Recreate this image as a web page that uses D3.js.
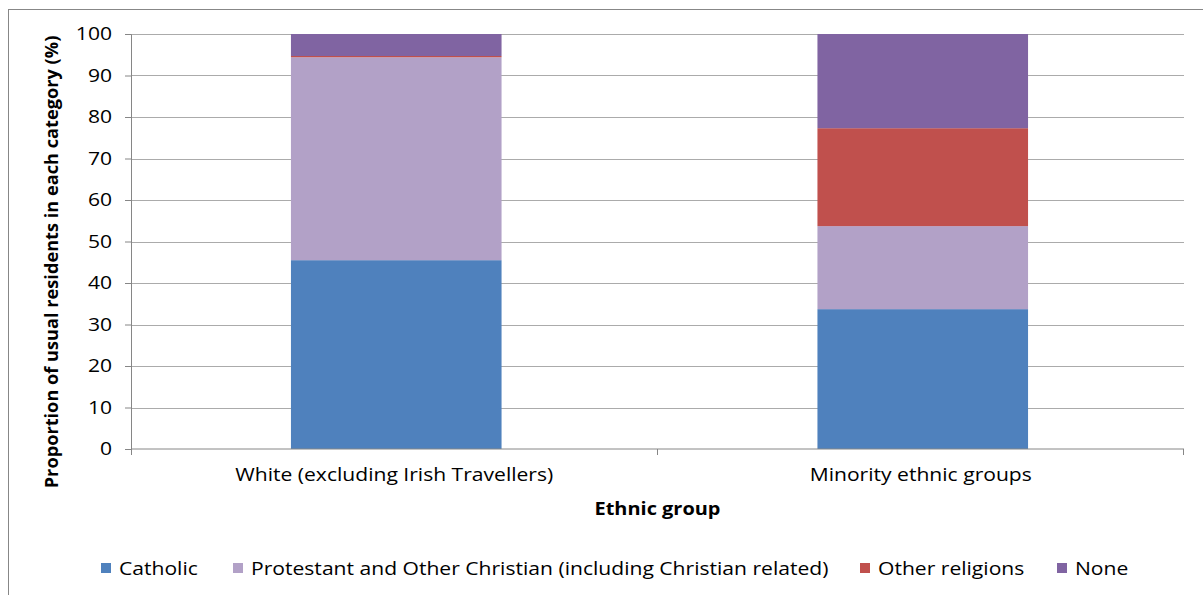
<!DOCTYPE html>
<html>
<head>
<meta charset="utf-8">
<script src="https://cdn.jsdelivr.net/npm/d3@7"></script>
<style>
  body { margin: 0; background: #fff; }
  text { font-family: 'Open Sans', sans-serif; fill: #000; }
</style>
</head>
<body>
<div id="chart"></div>
<script>
const groups = ['White (excluding Irish Travellers)', 'Minority ethnic groups']
const religions = ['Catholic', 'Protestant and Other Christian (including Christian related)', 'Other religions', 'None']
const catholic = [45.5, 33.7]
const protestant = [48.9, 20.0]
const otherReligions = [0.3, 23.6]
const none = [5.3, 22.7]
const yTicks = [0, 10, 20, 30, 40, 50, 60, 70, 80, 90, 100]
const colors = ['#4F81BD', '#B2A1C7', '#C0504D', '#8064A2']

const W = 1203, H = 595
const margin = { top: 34, right: 19, bottom: 146, left: 131 }
const width = W - margin.left - margin.right
const height = H - margin.top - margin.bottom
// the source picture is a little stretched sideways
const stretch = 1.14
const fs = '18.5px'

const rows = groups.map((g, i) => ({
  group: g,
  [religions[0]]: catholic[i],
  [religions[1]]: protestant[i],
  [religions[2]]: otherReligions[i],
  [religions[3]]: none[i]
}))
const stacked = d3.stack().keys(religions)(rows)

const svg = d3.select('#chart').append('svg')
  .attr('width', W).attr('height', H)

// outer frame
svg.append('rect')
  .attr('x', 8.5).attr('y', 9.5)
  .attr('width', W).attr('height', H)
  .attr('fill', 'none').attr('stroke', '#878787')

const g = svg.append('g')
  .attr('transform', 'translate(' + margin.left + ',' + margin.top + ')')

const x = d3.scaleBand().domain(groups).range([2, width + 2]).paddingInner(0.6).paddingOuter(0.3)
const xAxisScale = d3.scaleBand().domain(groups).range([0, width])
const y = d3.scaleLinear().domain([0, 100]).range([height, 0])

// gridlines
g.append('g').selectAll('line')
  .data(yTicks.filter(d => d > 0))
  .enter().append('line')
  .attr('x1', 0).attr('x2', width)
  .attr('y1', d => Math.round(y(d)) + 0.5).attr('y2', d => Math.round(y(d)) + 0.5)
  .attr('stroke', '#ABABAB')

// bars
g.selectAll('.layer')
  .data(stacked)
  .enter().append('g')
  .attr('fill', (d, i) => colors[i])
  .selectAll('rect')
  .data(d => d)
  .enter().append('rect')
  .attr('x', d => x(d.data.group))
  .attr('width', x.bandwidth())
  .attr('y', d => y(d[1]))
  .attr('height', d => y(d[0]) - y(d[1]))

// y axis
const yAxis = g.append('g')
  .call(d3.axisLeft(y).tickValues(yTicks).tickSize(6))
yAxis.selectAll('text')
  .style('font-size', fs)
  .attr('x', -19 / stretch)
  .attr('transform', 'scale(' + stretch + ',1)')
yAxis.selectAll('line, path').attr('stroke', '#868686')

// x axis
const xAxis = g.append('g')
  .attr('transform', 'translate(0,' + height + ')')
  .call(d3.axisBottom(xAxisScale).tickSize(0).tickPadding(19))
xAxis.select('.domain').attr('stroke', '#868686').attr('d', 'M0.5,0H' + width + 'M0.5,0V6M' + (width / 2) + ',0V6M' + (width - 0.5) + ',0V6')
xAxis.selectAll('text')
  .style('font-size', fs)
  .attr('transform', 'scale(' + stretch + ',1)')

// axis titles
svg.append('text')
  .attr('transform', 'translate(58,' + 262 + ') rotate(-90)')
  .attr('text-anchor', 'middle')
  .style('font-size', '18.2px').style('font-weight', 'bold')
  .text('Proportion of usual residents in each category (%)')

svg.append('text')
  .attr('transform', 'translate(' + (margin.left + width / 2) + ',515) scale(' + stretch + ',1)')
  .attr('text-anchor', 'middle')
  .style('font-size', '17.5px').style('font-weight', 'bold')
  .text('Ethnic group')

// legend
const legendX = [101, 233, 860, 1057]
const legend = svg.append('g')
legend.selectAll('rect')
  .data(religions)
  .enter().append('rect')
  .attr('x', (d, i) => legendX[i]).attr('y', 563)
  .attr('width', 10).attr('height', 10)
  .attr('fill', (d, i) => colors[i])
legend.selectAll('text')
  .data(religions)
  .enter().append('text')
  .attr('transform', (d, i) => 'translate(' + (legendX[i] + 18) + ',575) scale(' + stretch + ',1)')
  .style('font-size', fs)
  .text(d => d)
</script>
</body>
</html>
